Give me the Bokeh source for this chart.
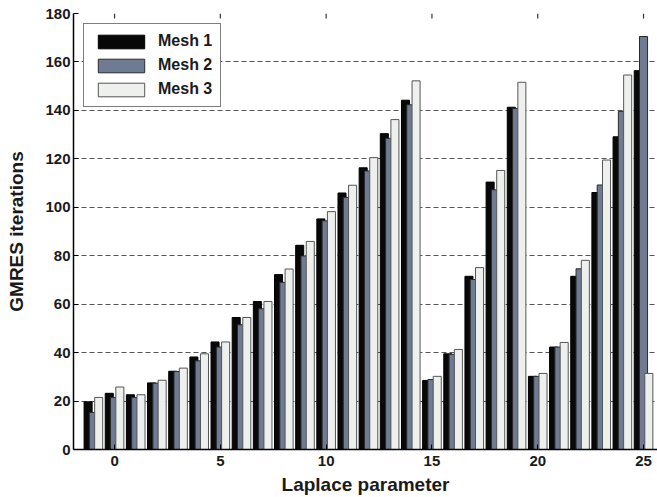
from bokeh.plotting import figure
from bokeh.models import ColumnDataSource, Range1d, FixedTicker
from bokeh.transform import dodge
from bokeh.embed import file_html
from bokeh.resources import INLINE

groups = list(range(-1, 26))
mesh1 = [19.7, 23.2, 22.6, 27.5, 32.3, 38.2, 44.4, 54.5, 61.1, 72.2, 84.3, 95.2, 105.9, 116.3,
         130.4, 144.2, 28.5, 39.5, 71.5, 110.4, 141.3, 30.2, 42.3, 71.5, 106.1, 129.1, 156.4]
mesh2 = [15.3, 21.5, 21.5, 27.4, 32.2, 36.6, 42.3, 51.5, 58.1, 69.0, 79.9, 94.4, 104.1, 115.0,
         128.5, 142.3, 28.9, 39.3, 70.2, 107.2, 140.8, 30.2, 42.3, 74.6, 109.2, 139.6, 170.5]
mesh3 = [21.5, 25.8, 22.6, 28.6, 33.6, 39.5, 44.4, 54.5, 61.1, 74.5, 85.9, 98.2, 109.1, 120.5,
         136.2, 152.2, 30.2, 41.3, 75.1, 115.2, 151.6, 31.4, 44.2, 78.1, 119.5, 154.6, 31.4]
series_names = ["Mesh 1", "Mesh 2", "Mesh 3"]
x_ticks = [0, 5, 10, 15, 20, 25]
y_ticks = list(range(0, 181, 20))
y_max = 180

src = ColumnDataSource(dict(x=groups, m1=mesh1, m2=mesh2, m3=mesh3))

FONT = "Liberation Sans"
TXT = "#1a1a1a"

p = figure(width=657, height=497, output_backend="svg", toolbar_location=None,
           x_range=Range1d(-1.94, 25.66), y_range=Range1d(0, y_max),
           min_border_left=73, min_border_right=0, min_border_top=13, min_border_bottom=48,
           x_axis_label="Laplace parameter", y_axis_label="GMRES iterations")
p.outline_line_color = None
p.background_fill_color = "white"
p.border_fill_color = "white"

p.xgrid.grid_line_color = None
p.ygrid.ticker = FixedTicker(ticks=y_ticks)
p.ygrid.grid_line_color = "#555555"
p.ygrid.grid_line_dash = "5 3"
p.ygrid.grid_line_width = 1

styles = [("m1", -0.25, "#080808", "#000000"),
          ("m2", 0.0, "#6f7a93", "#2a2a2a"),
          ("m3", 0.25, "#eef0ee", "#555555")]
for (col, off, fc, lc), name in zip(styles, series_names):
    p.vbar(x=dodge("x", off, range=p.x_range), top=col, width=0.38, source=src,
           fill_color=fc, line_color=lc, line_width=1, legend_label=name)

# inward tick marks along the top edge, at the x tick positions
p.ray(x=x_ticks, y=[y_max] * len(x_ticks), length=5, length_units="screen",
      angle=-90, angle_units="deg", line_color="#333333", line_width=1.2)

p.xaxis.ticker = FixedTicker(ticks=x_ticks)
p.yaxis.ticker = FixedTicker(ticks=y_ticks)
for ax in (p.xaxis[0], p.yaxis[0]):
    ax.major_tick_in = 5
    ax.major_tick_out = 0
    ax.minor_tick_line_color = None
    ax.axis_line_color = "black"
    ax.axis_line_width = 1.5
    ax.major_tick_line_color = "black"
    ax.major_label_text_font = FONT
    ax.major_label_text_font_style = "bold"
    ax.major_label_text_font_size = "15px"
    ax.major_label_text_color = TXT
    ax.axis_label_text_font = FONT
    ax.axis_label_text_font_style = "bold"
    ax.axis_label_text_font_size = "19px"
    ax.axis_label_text_color = TXT
p.xaxis.major_label_standoff = 6
p.xaxis.axis_label_standoff = 5
p.yaxis.major_label_standoff = 3
p.yaxis.axis_label_standoff = 15

lg = p.legend[0]
lg.location = "top_left"
lg.margin = 10
lg.padding = 8
lg.spacing = 6
lg.glyph_width = 58
lg.glyph_height = 17
lg.label_height = 17
lg.label_standoff = 8
lg.label_text_font = FONT
lg.label_text_font_style = "bold"
lg.label_text_font_size = "16px"
lg.label_text_color = TXT
lg.border_line_color = "black"
lg.border_line_width = 1.5
lg.background_fill_color = "white"
lg.background_fill_alpha = 1

open("out.html", "w").write(file_html(p, INLINE))
